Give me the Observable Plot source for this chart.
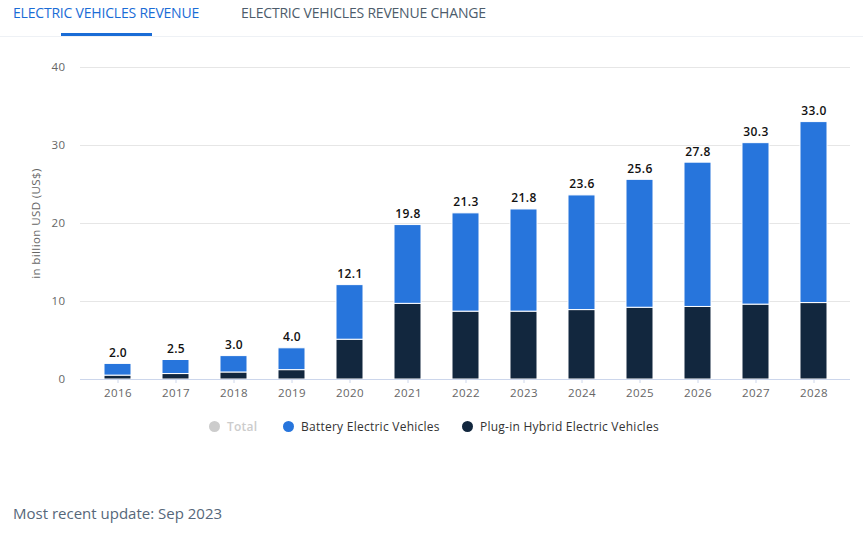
<!DOCTYPE html>
<html>
<head>
<meta charset="utf-8">
<script src="https://cdn.jsdelivr.net/npm/d3@7"></script>
<script src="https://cdn.jsdelivr.net/npm/@observablehq/plot@0.6"></script>
<style>
  html, body { margin: 0; padding: 0; background: #fff; }
  body { width: 863px; height: 533px; position: relative; overflow: hidden; font-family: "Open Sans", sans-serif; }
  #tabs { position: absolute; left: 0; top: 0; width: 863px; height: 36px; border-bottom: 1px solid #eef1f5; }
  .tab { position: absolute; top: 3px; font-size: 14px; letter-spacing: -0.2px; white-space: nowrap; }
  #tab1 { left: 13px; color: #1a6cd6; }
  #tab2 { left: 241px; color: #4d5c6b; }
  #underline { position: absolute; left: 61px; top: 33px; width: 91px; height: 3px; background: #1a6cd6; }
  #chart { position: absolute; left: 0; top: 40px; }
  #legend { position: absolute; left: 0; top: 418px; width: 863px; font-size: 12px; color: #333; }
  .item { position: absolute; top: 0; white-space: nowrap; letter-spacing: 0.25px; }
  .dot { display: inline-block; width: 11px; height: 11px; border-radius: 50%; vertical-align: -1px; margin-right: 7px; }
  #footer { position: absolute; left: 13px; top: 503px; font-size: 15px; color: #56677a; }
  #chart svg text { letter-spacing: 0.4px; }
</style>
</head>
<body>
<div id="tabs">
  <div class="tab" id="tab1">ELECTRIC VEHICLES REVENUE</div>
  <div class="tab" id="tab2">ELECTRIC VEHICLES REVENUE CHANGE</div>
  <div id="underline"></div>
</div>
<div id="chart"></div>
<div id="legend"></div>
<div id="footer">Most recent update: Sep 2023</div>
<script>
const years = ["2016","2017","2018","2019","2020","2021","2022","2023","2024","2025","2026","2027","2028"];
const totals = [2.0, 2.5, 3.0, 4.0, 12.1, 19.8, 21.3, 21.8, 23.6, 25.6, 27.8, 30.3, 33.0];
const bev = [1.5, 1.8, 2.1, 2.8, 7.0, 10.1, 12.6, 13.1, 14.7, 16.4, 18.5, 20.7, 23.2];
const phev = [0.5, 0.7, 0.9, 1.2, 5.1, 9.7, 8.7, 8.7, 8.9, 9.2, 9.3, 9.6, 9.8];
const seriesNames = ["Plug-in Hybrid Electric Vehicles", "Battery Electric Vehicles"];
const seriesColors = ["#12273e", "#2775dc"];
const yTicks = [0, 10, 20, 30, 40];

const rows = [];
years.forEach((yr, i) => {
  rows.push({year: yr, series: seriesNames[0], value: phev[i]});
  rows.push({year: yr, series: seriesNames[1], value: bev[i]});
});
const totalRows = years.map((yr, i) => ({year: yr, total: totals[i]}));

const chart = Plot.plot({
  width: 863,
  height: 369,
  marginLeft: 80,
  marginRight: 13,
  marginTop: 27,
  marginBottom: 30,
  style: {fontFamily: "'Open Sans', sans-serif", fontSize: "11.5px", color: "#666", background: "transparent", overflow: "visible"},
  x: {domain: years, paddingInner: 0.536, paddingOuter: 0.387, label: null},
  y: {domain: [0, 40], ticks: yTicks, label: null},
  color: {domain: seriesNames, range: seriesColors},
  marks: [
    Plot.ruleY(yTicks.filter(d => d > 0), {stroke: "#e6e6e6", strokeWidth: 1}),
    Plot.barY(rows, {x: "year", y: "value", fill: "series", stroke: "white", strokeWidth: 1, order: seriesNames}),
    Plot.ruleY([0], {stroke: "#ccd6eb", strokeWidth: 1}),
    Plot.axisX({tickSize: 4, tickPadding: 5, stroke: "#ccd6eb", fill: "#666", fontSize: 11.5, label: null}),
    Plot.axisY(yTicks, {tickSize: 0, tickPadding: 15, fill: "#666", fontSize: 11.5, label: null}),
    Plot.text(["in billion USD (US$)"], {frameAnchor: "left", textAnchor: "middle", dx: -44, rotate: -90, fill: "#666", fontSize: 11.5}),
    Plot.text(totalRows, {x: "year", y: "total", text: d => d.total.toFixed(1), dy: -11, fill: "#111", fontWeight: 600, fontSize: 12})
  ]
});
document.getElementById("chart").appendChild(chart);

const legend = document.getElementById("legend");
const items = [
  {name: "Total", color: "#cccccc", text: "#cccccc", left: 209, bold: true},
  {name: seriesNames[1], color: seriesColors[1], text: "#333", left: 283, bold: false},
  {name: seriesNames[0], color: seriesColors[0], text: "#333", left: 462, bold: false}
];
items.forEach(it => {
  const d = document.createElement("div");
  d.className = "item";
  d.style.left = it.left + "px";
  d.style.color = it.text;
  if (it.bold) d.style.fontWeight = "600";
  const dot = document.createElement("span");
  dot.className = "dot";
  dot.style.background = it.color;
  d.appendChild(dot);
  d.appendChild(document.createTextNode(it.name));
  legend.appendChild(d);
});
</script>
</body>
</html>
